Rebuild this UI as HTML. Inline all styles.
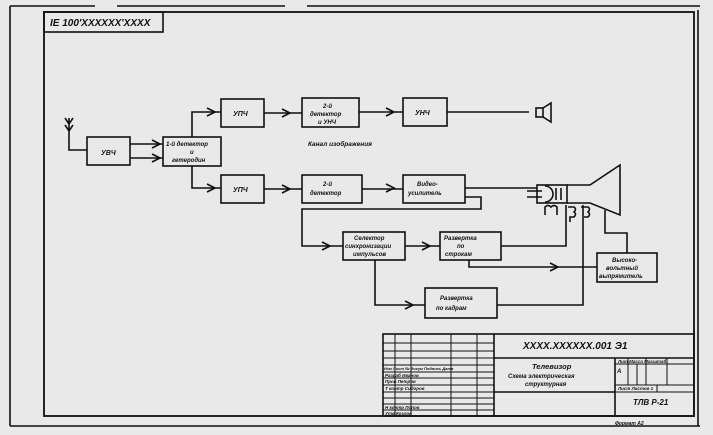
<!DOCTYPE html>
<html><head><meta charset="utf-8"><style>
html,body{margin:0;padding:0;background:#e9e9e9}
svg{display:block}
text{font-family:"Liberation Sans",sans-serif;font-style:italic;font-weight:bold;fill:#111}
</style></head><body>
<svg width="713" height="435" viewBox="0 0 713 435" xmlns="http://www.w3.org/2000/svg">
<rect width="713" height="435" fill="#e9e9e9"/>
<g stroke="#111" fill="none" stroke-width="1.6">
<path d="M10 6 H95 M117 6 H285 M307 6 H700 M10 6 V426 M10 426 H700 M698 10 V426"/>
<rect x="44" y="12" width="650" height="404" stroke-width="1.8"/>
<rect x="44" y="12" width="119" height="20"/>
<path d="M69 118 V150 H87 M65 118 L69 124 L73 118 M65 125 L69 131 L73 125"/>
<rect x="87" y="137" width="43" height="28"/>
<rect x="163" y="137" width="58" height="29"/>
<rect x="221" y="99" width="43" height="28"/>
<rect x="302" y="98" width="57" height="29"/>
<rect x="403" y="98" width="44" height="28"/>
<rect x="221" y="175" width="43" height="28"/>
<rect x="302" y="175" width="60" height="28"/>
<rect x="403" y="175" width="62" height="28"/>
<rect x="343" y="232" width="62" height="28"/>
<rect x="440" y="232" width="61" height="28"/>
<rect x="597" y="253" width="60" height="29"/>
<rect x="425" y="288" width="72" height="30"/>
<path d="M130 144 H163 M130 158 H163"/>
<path d="M192 137 V112 H221 M192 166 V188 H221"/>
<path d="M264 113 H302 M359 112 H403 M447 112 H529"/>
<path d="M264 189 H302 M362 189 H403 M465 188 H537"/>
<path d="M465 197 H481 V209 H302 V246 H343"/>
<path d="M405 246 H440"/>
<path d="M501 246 H566 V205"/>
<path d="M469 260 V267 H597"/>
<path d="M375 260 V305 H425"/>
<path d="M497 305 H583 V205"/>
<path d="M605 210 V233 H627 V253"/>
<path d="M152 140 L160 144 L152 148 M152 154 L160 158 L152 162"/>
<path d="M207 108 L215 112 L207 116 M207 184 L215 188 L207 192"/>
<path d="M282 109 L290 113 L282 117 M282 185 L290 189 L282 193"/>
<path d="M386 108 L394 112 L386 116 M386 184 L394 188 L386 192"/>
<path d="M322 242 L330 246 L322 250 M422 242 L430 246 L422 250"/>
<path d="M550 263 L558 267 L550 271 M405 301 L413 305 L405 309"/>
<rect x="536" y="108" width="7" height="9"/>
<path d="M543 108 L551 103 V122 L543 117"/>
<rect x="537" y="185" width="30" height="18"/>
<path d="M567 185 H590 L620 165 V215 L590 203 H567"/>
<path d="M545 186 A6 6 0 0 1 545 202" />
<path d="M527 191 H542 M527 197 H542 M556 188 V200 M561 188 V200"/>
<path d="M545 215 V207 Q548 204 551 207 Q554 204 557 207 V215"/>
<path d="M568 207 H574 Q577 209 574 212 Q577 214 574 217 H570 V222"/>
<path d="M581 207 H588 Q591 209 588 212 Q591 214 588 217 H584"/>
<rect x="383" y="334" width="311" height="82"/>
<path d="M494 334 V416 M494 358 H694 M615 358 V416 M494 392 H615"/>
<path d="M395 334 V416 M411 334 V416 M451 334 V416 M477 334 V416" stroke-width="1"/>
<path d="M383 343 H494 M383 351 H494 M383 358 H494 M383 365 H494 M383 372 H494 M383 378 H494 M383 385 H494 M383 392 H494 M383 398 H494 M383 404 H494 M383 410 H494" stroke-width="1"/>
<path d="M615 364 H694 M615 385 H694 M615 392 H694 M628 358 V385 M637 364 V385 M646 358 V385 M667 358 V385 M657 385 V392" stroke-width="1"/>
</g>
<g font-size="9">
<text x="50" y="26" font-size="10">IE 100'XXXXXX'XXXX</text>
<text x="101" y="155" font-size="7">УВЧ</text>
<text x="166" y="146" font-size="6">1-й детектор</text>
<text x="190" y="154" font-size="6">и</text>
<text x="172" y="162" font-size="6">гетеродин</text>
<text x="233" y="116" font-size="7">УПЧ</text>
<text x="233" y="192" font-size="7">УПЧ</text>
<text x="323" y="108" font-size="6">2-й</text>
<text x="310" y="116" font-size="6">детектор</text>
<text x="318" y="124" font-size="6">и УНЧ</text>
<text x="415" y="115" font-size="7">УНЧ</text>
<text x="308" y="146" font-size="6.5">Канал изображения</text>
<text x="323" y="186" font-size="6">2-й</text>
<text x="310" y="195" font-size="6">детектор</text>
<text x="417" y="186" font-size="6">Видео-</text>
<text x="408" y="195" font-size="6">усилитель</text>
<text x="354" y="240" font-size="6">Селектор</text>
<text x="345" y="248" font-size="6">синхронизации</text>
<text x="353" y="256" font-size="6">импульсов</text>
<text x="444" y="240" font-size="6">Развертка</text>
<text x="457" y="248" font-size="6">по</text>
<text x="445" y="256" font-size="6">строкам</text>
<text x="612" y="262" font-size="6">Высоко-</text>
<text x="606" y="270" font-size="6">вольтный</text>
<text x="599" y="278" font-size="6">выпрямитель</text>
<text x="440" y="300" font-size="6">Развертка</text>
<text x="436" y="310" font-size="6">по кадрам</text>
<text x="523" y="349" font-size="10">XXXX.XXXXXX.001 Э1</text>
<text x="532" y="369" font-size="7.5">Телевизор</text>
<text x="508" y="378" font-size="6">Схема электрическая</text>
<text x="525" y="386" font-size="6">структурная</text>
<text x="633" y="405" font-size="8">ТЛВ Р-21</text>
<text x="618" y="363" font-size="4.5">Лит   Масса  Масштаб</text>
<text x="617" y="373" font-size="6">А</text>
<text x="618" y="390" font-size="4.5">Лист     Листов 1</text>
<text x="384" y="370" font-size="4">Изм Лист  № докум  Подпись Дата</text>
<text x="385" y="377" font-size="4.5">Разраб   Иванов</text>
<text x="385" y="383" font-size="4.5">Пров     Петров</text>
<text x="385" y="390" font-size="4.5">Т контр  Сидоров</text>
<text x="385" y="409" font-size="4.5">Н контр  Попов</text>
<text x="385" y="415" font-size="4.5">Утв      Козлов</text>
<text x="615" y="425" font-size="5">Формат А2</text>
</g>
</svg>
</body></html>
